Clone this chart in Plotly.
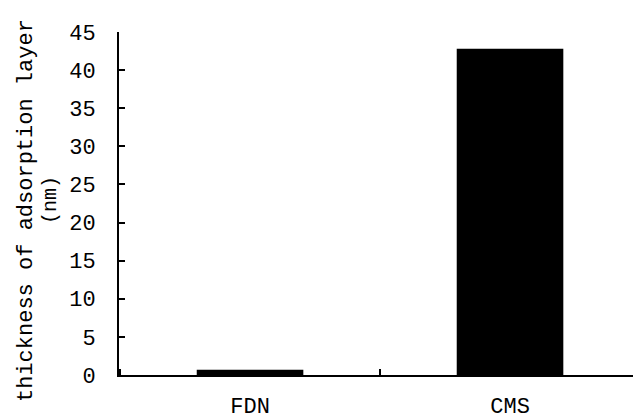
import plotly.graph_objects as go

categories = ["FDN", "CMS"]
values = [0.7, 42.8]
y_ticks = [0, 5, 10, 15, 20, 25, 30, 35, 40, 45]
y_title_line1 = "thickness of adsorption layer"
y_title_line2 = "(nm)"

FONT = "Liberation Mono, Courier New, monospace"
W, H = 635, 420
L, R, T, B = 119, 2, 32, 45
pw = W - L - R
ph = H - T - B

fig = go.Figure(go.Bar(
    x=categories, y=values,
    marker=dict(color="black", line=dict(color="black", width=0)),
    width=0.41,
))

def px_x(p):
    return (p - L) / pw

def px_y(p):
    return (H - B - p) / ph

fig.update_layout(
    width=W, height=H,
    margin=dict(l=L, r=R, t=T, b=B, autoexpand=False),
    paper_bgcolor="white", plot_bgcolor="white",
    showlegend=False,
    font=dict(family=FONT, color="black", size=22),
    xaxis=dict(
        type="category",
        range=[-0.504, 1.473],
        showline=True, linecolor="black", linewidth=2,
        ticks="inside", tickson="boundaries", ticklen=6, tickwidth=1.5, tickcolor="black",
        showgrid=False, zeroline=False,
        tickfont=dict(family=FONT, size=22, color="black"),
        ticklabelstandoff=10,
    ),
    yaxis=dict(
        range=[0, 45],
        tickvals=y_ticks,
        ticktext=[str(v) for v in y_ticks],
        showline=True, linecolor="black", linewidth=2,
        ticks="inside", ticklen=6, tickwidth=1.5, tickcolor="black",
        showgrid=False, zeroline=False,
        tickfont=dict(family=FONT, size=22, color="black"),
        ticklabelstandoff=17,
    ),
    annotations=[
        dict(text=y_title_line1, textangle=-90, xref="paper", yref="paper",
             x=px_x(26), y=px_y(211), xanchor="center", yanchor="middle",
             showarrow=False, font=dict(family=FONT, size=22, color="black")),
        dict(text=y_title_line2, textangle=-90, xref="paper", yref="paper",
             x=px_x(50), y=px_y(200), xanchor="center", yanchor="middle",
             showarrow=False, font=dict(family=FONT, size=20, color="black")),
    ],
)

fig.write_html("out.html")
